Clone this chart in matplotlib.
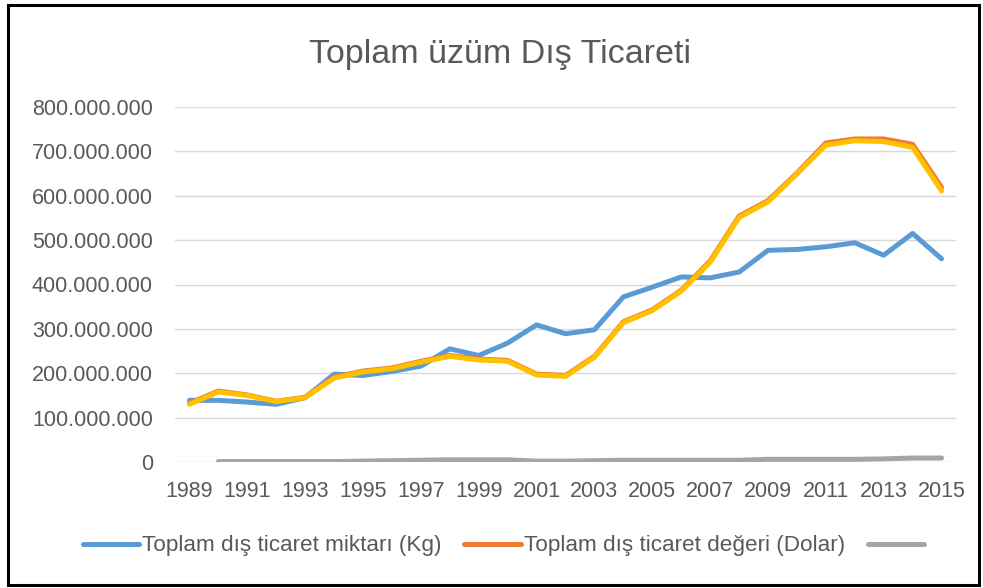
import matplotlib.pyplot as plt
import numpy as np
from matplotlib.patches import Rectangle
from matplotlib.ticker import FuncFormatter

plt.rcParams['font.family'] = ['Liberation Sans', 'DejaVu Sans']

# Veriler (milyon)
years = list(range(1989, 2016))
miktar = [139, 139, 135, 130, 145, 198, 195, 204, 216, 255, 240, 268, 309, 289,
          298, 372, 394, 417, 415, 428, 477, 479, 485, 494, 466, 515, 458]
deger = [132, 160, 151, 137, 146, 191, 205, 212, 227, 240, 232, 229, 198, 195,
         238, 316, 343, 387, 453, 554, 589, 651, 719, 728, 728, 716, 619]
gri = [np.nan, 1, 1, 1, 1, 1, 2, 3, 4, 5, 5, 5, 2, 2,
       3, 4, 4, 4, 4, 4, 6, 6, 6, 6, 7, 9, 9]
sari = [130, 158, 150, 136, 145, 189, 203, 210, 225, 238, 230, 227, 196, 193,
        236, 314, 341, 385, 450, 551, 586, 649, 714, 724, 722, 709, 611]
labels = ['Toplam dış ticaret miktarı (Kg)', 'Toplam dış ticaret değeri (Dolar)', ' ']

M = 1e6
fig = plt.figure(figsize=(9.83, 5.88), dpi=100)
W, H = 983, 588
ax = fig.add_axes([175 / W, 1 - 462 / H, (956 - 175) / W, (462 - 107) / H])

txt = '#595959'
lw = 3.6
l1, = ax.plot(years, np.array(miktar) * M, color='#5B9BD5', lw=lw, solid_capstyle='round', zorder=3)
l2, = ax.plot(years, np.array(deger) * M, color='#ED7D31', lw=lw, solid_capstyle='round', zorder=4)
l3, = ax.plot(years, np.array(gri) * M, color='#A5A5A5', lw=lw, solid_capstyle='round', zorder=5)
ax.plot(years, np.array(sari) * M, color='#FFC000', lw=lw, solid_capstyle='round', zorder=6)

ax.set_xlim(1988.5, 2015.5)
ax.set_ylim(0, 800 * M)
ax.set_yticks(np.arange(0, 801, 100) * M)
ax.set_xticks(years[::2])
ax.yaxis.set_major_formatter(FuncFormatter(lambda v, p: f'{int(round(v)):,}'.replace(',', '.')))
ax.grid(axis='y', color='#D9D9D9', lw=1.0)
ax.set_axisbelow(True)
for s in ax.spines.values():
    s.set_visible(False)
ax.tick_params(axis='both', length=0, labelsize=15.5, labelcolor=txt)
ax.tick_params(axis='y', pad=16)
ax.tick_params(axis='x', pad=14)

fig.text(500 / W, 1 - 63 / H, 'Toplam üzüm Dış Ticareti', ha='center', va='baseline',
         fontsize=24.5, color=txt)

fig.legend([l1, l2, l3], labels, loc='center', bbox_to_anchor=(508 / W, 1 - 546 / H),
           ncol=3, frameon=False, fontsize=16.2, labelcolor=txt, handlelength=2.5,
           handletextpad=0.15, columnspacing=1.0)

fig.patches.append(Rectangle((8 / W, 1 - 585 / H), (979 - 8) / W, (585 - 5) / H,
                             transform=fig.transFigure, fill=False, ec='black', lw=2.2))

fig.savefig('out.png', dpi=100)
